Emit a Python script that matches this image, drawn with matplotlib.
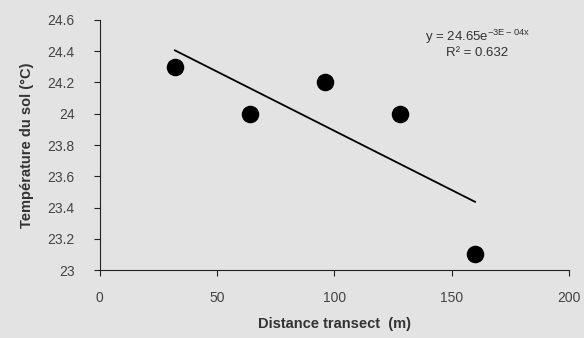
import numpy as np
import matplotlib
matplotlib.use("Agg")
import matplotlib.pyplot as plt

plt.rcParams['font.family'] = ['Liberation Sans', 'DejaVu Sans']

# donnees
distance = [32, 64, 96, 128, 160]
temperature = [24.3, 24.0, 24.2, 24.0, 23.1]
yticks = [23, 23.2, 23.4, 23.6, 23.8, 24, 24.2, 24.4, 24.6]
ytick_labels = ['23', '23.2', '23.4', '23.6', '23.8', '24', '24.2', '24.4', '24.6']
xticks = [0, 50, 100, 150, 200]

bg = '#e3e3e3'
fig = plt.figure(figsize=(5.84, 3.38), dpi=100, facecolor=bg)
ax = fig.add_axes([0.171, 0.201, 0.803, 0.740], facecolor=bg)

x = np.array(distance, dtype=float)
y = np.array(temperature)
# courbe de tendance exponentielle
b, a = np.polyfit(x, np.log(y), 1)
xl = np.array([x.min(), x.max()])
ax.plot(xl, np.exp(a) * np.exp(b * xl), color='black', lw=1.3)

ax.scatter(x, y, s=135, color='black', zorder=3)

ax.set_xlim(0, 200)
ax.set_ylim(23, 24.6)
ax.set_xticks(xticks)
ax.set_yticks(yticks)
ax.set_yticklabels(ytick_labels)
for s in ['top', 'right']:
    ax.spines[s].set_visible(False)
for s in ['left', 'bottom']:
    ax.spines[s].set_color('#222222')
ax.tick_params(axis='both', labelsize=10, colors='#222222', labelcolor='#444444',
               direction='out', length=4)
ax.tick_params(axis='x', pad=11)
ax.tick_params(axis='y', pad=14)

ax.set_xlabel('Distance transect  (m)', fontsize=10.5, fontweight='bold', color='#333333',
              labelpad=9)
ax.set_ylabel('Température du sol (°C)', fontsize=10.5, fontweight='bold', color='#333333',
              labelpad=10)

ax.text(0.805, 0.905, 'y = 24.65e$^{\\mathregular{-3E-04x}}$\nR² = 0.632', transform=ax.transAxes,
        ha='center', va='center', fontsize=9.5, color='#333333', linespacing=1.1)

fig.savefig('out.png', dpi=100, facecolor=bg)
